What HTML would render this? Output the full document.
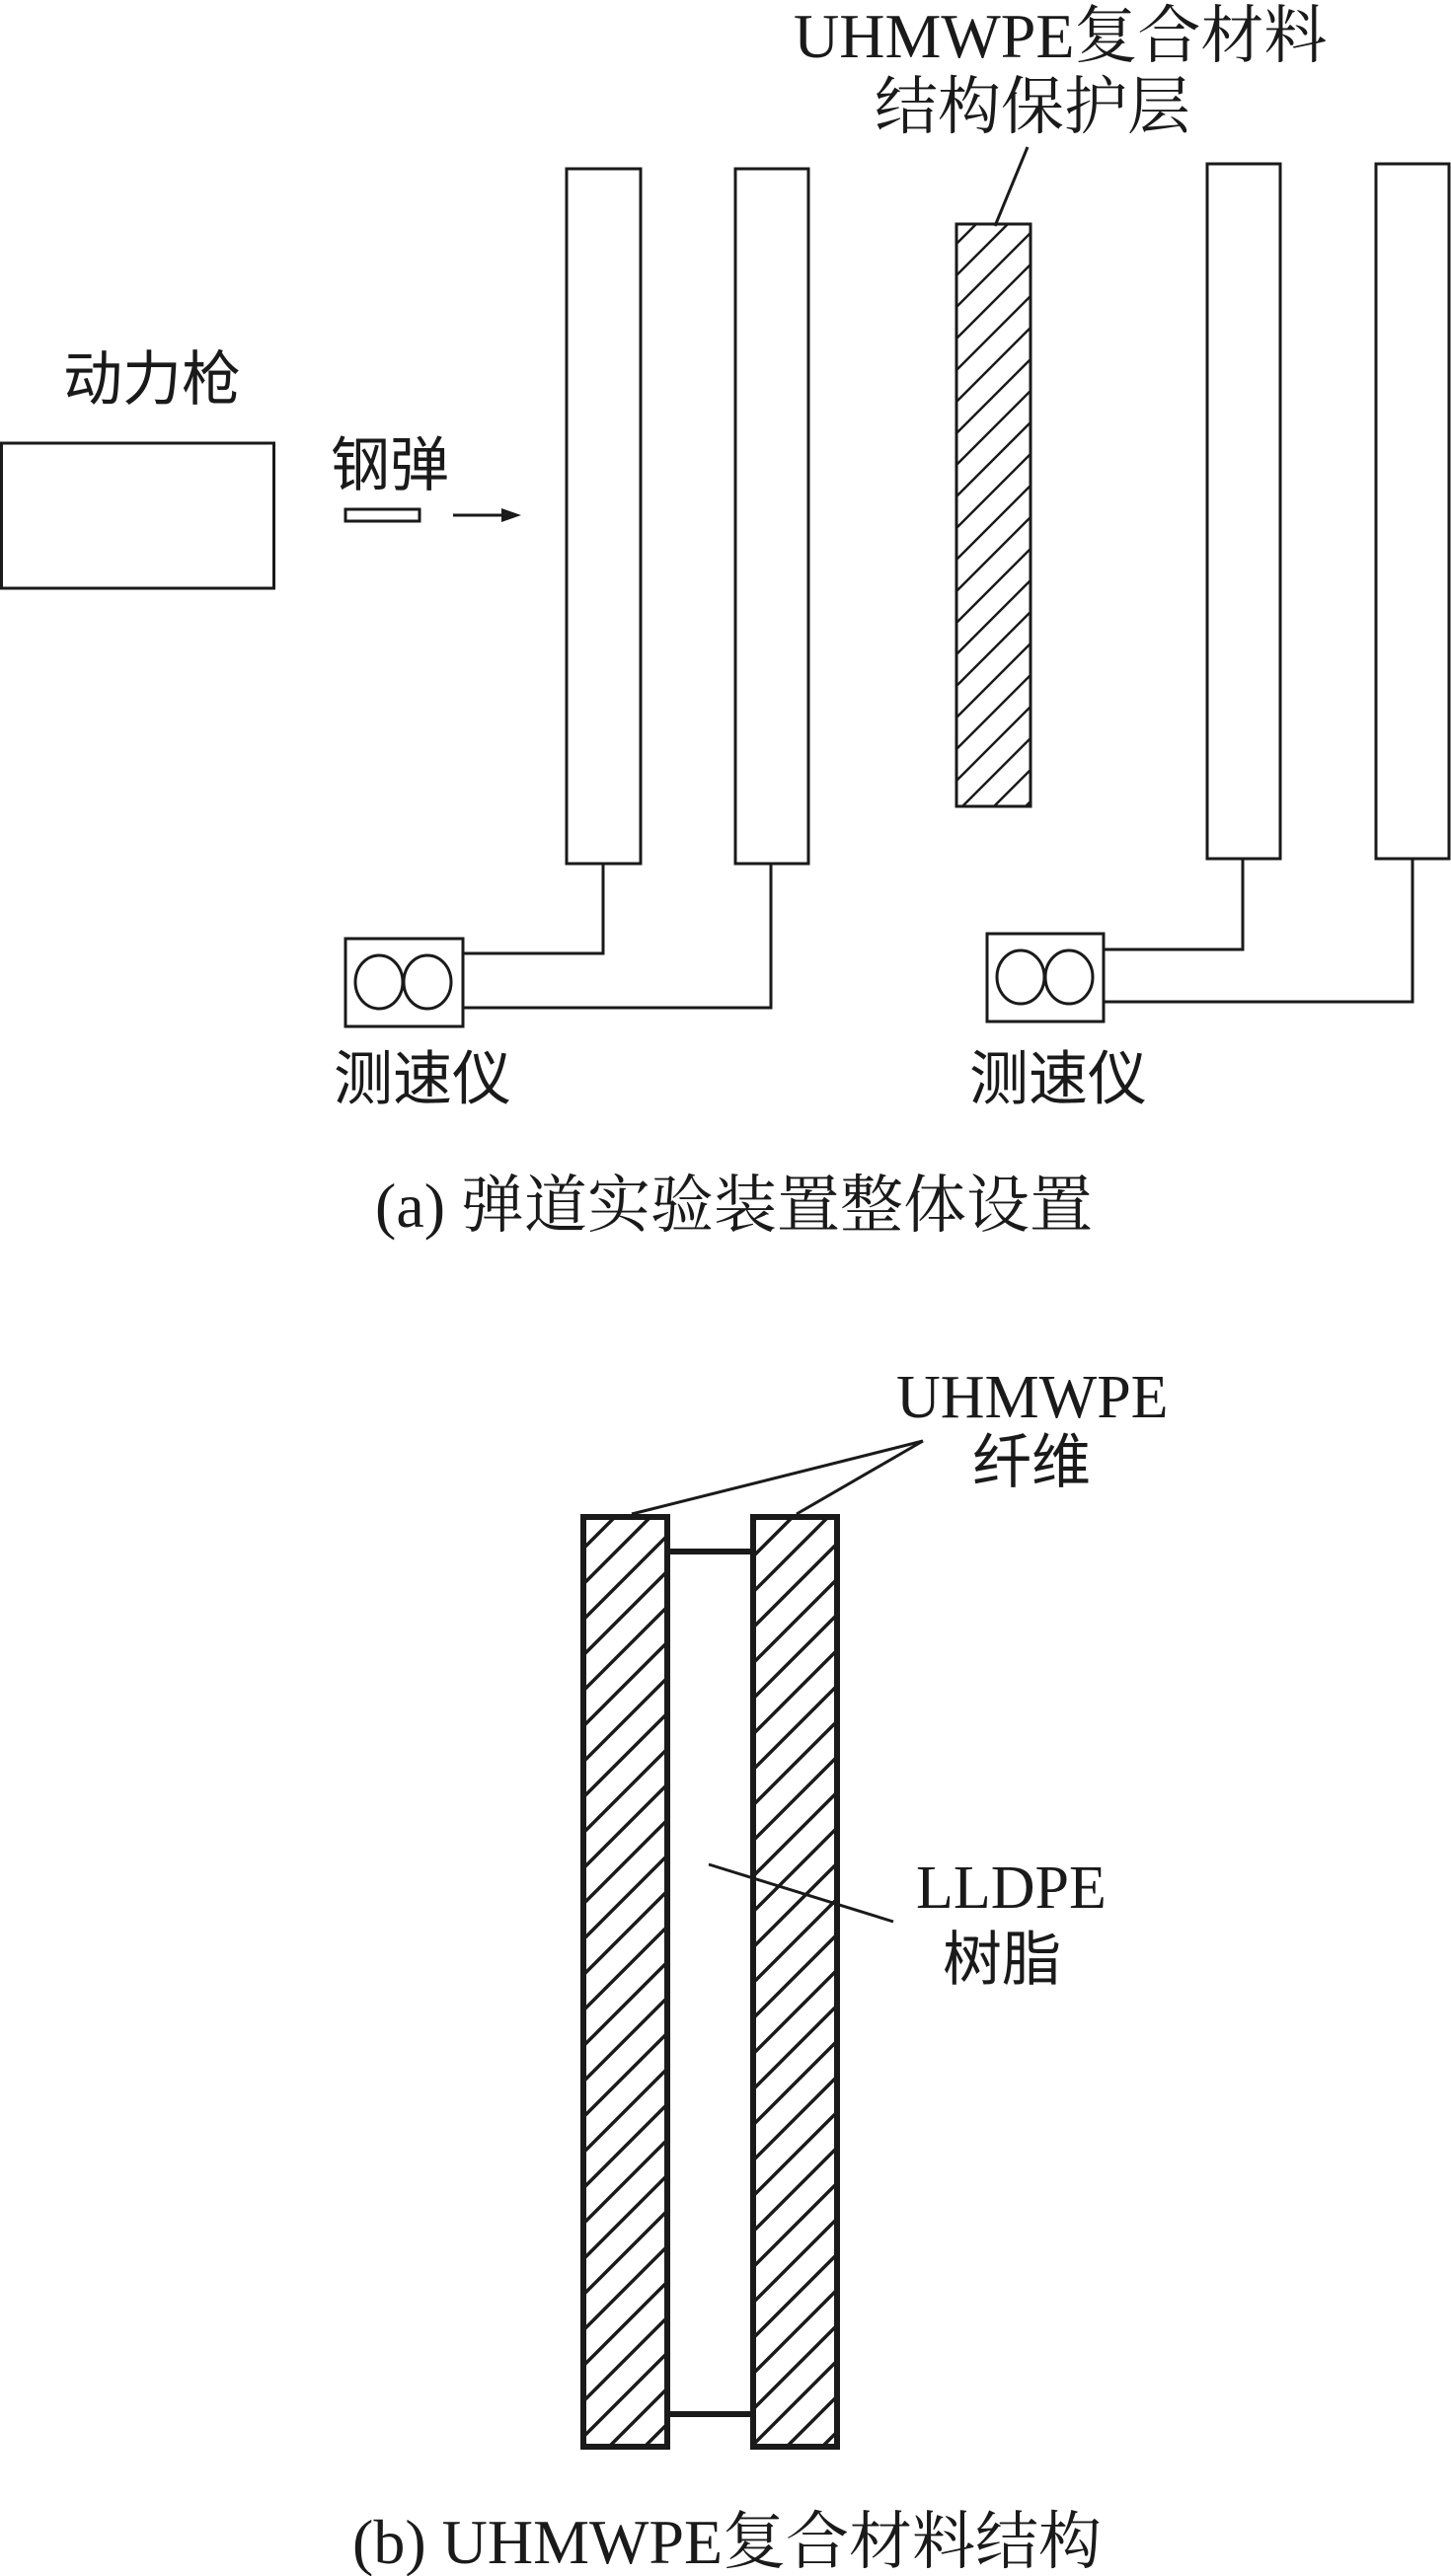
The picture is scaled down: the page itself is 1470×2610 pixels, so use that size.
<!DOCTYPE html>
<html><head><meta charset="utf-8"><style>
html,body{margin:0;padding:0;background:#fff;}
svg{display:block;}
text{fill:#1a1a1a;}
.s{font-family:"Liberation Serif","Noto Serif CJK SC",serif;}
.h{font-family:"Liberation Sans","Noto Sans CJK SC",sans-serif;}
</style></head><body>
<svg width="1470" height="2610" viewBox="0 0 1470 2610" xmlns="http://www.w3.org/2000/svg">
<defs>
<pattern id="ha" patternUnits="userSpaceOnUse" width="32" height="32">
<path d="M-6,38 L38,-6 M-6,6 L6,-6 M26,38 L38,26" stroke="#1a1a1a" stroke-width="2.5"/>
</pattern>
<pattern id="hb" patternUnits="userSpaceOnUse" width="36" height="36">
<path d="M-6,42 L42,-6 M-6,6 L6,-6 M30,42 L42,30" stroke="#1a1a1a" stroke-width="3.5"/>
</pattern>
</defs>
<g fill="none" stroke="#1a1a1a" stroke-width="3">
<rect x="1.5" y="449" width="276" height="147"/>
<rect x="350" y="516" width="75" height="12"/>
<line x1="459" y1="522" x2="515" y2="522"/>
<rect x="574" y="171" width="75" height="704"/>
<rect x="745" y="171" width="74" height="704"/>
<rect x="969" y="227" width="75" height="590" fill="url(#ha)"/>
<rect x="1223" y="166" width="74" height="704"/>
<rect x="1394" y="166" width="74" height="704"/>
<line x1="1041" y1="149" x2="1008" y2="229"/>
<rect x="350" y="951" width="119" height="89"/>
<ellipse cx="384" cy="995" rx="24" ry="27"/><ellipse cx="433" cy="995" rx="24" ry="27"/>
<polyline points="611,875 611,966 469,966"/>
<polyline points="781,875 781,1021 469,1021"/>
<rect x="1000" y="946" width="118" height="89"/>
<ellipse cx="1034" cy="990" rx="24" ry="27"/><ellipse cx="1083" cy="990" rx="24" ry="27"/>
<polyline points="1259,870 1259,962 1118,962"/>
<polyline points="1431,870 1431,1015 1118,1015"/>
</g>
<polygon points="528,522 508,515 508,529" fill="#1a1a1a"/>
<g fill="none" stroke="#1a1a1a">
<rect x="591" y="1537" width="85" height="942" stroke-width="6" fill="url(#hb)"/>
<rect x="763" y="1537" width="85" height="942" stroke-width="6" fill="url(#hb)"/>
<line x1="676" y1="1572" x2="763" y2="1572" stroke-width="6"/>
<line x1="676" y1="2446" x2="763" y2="2446" stroke-width="6"/>
<line x1="935" y1="1460" x2="640" y2="1534" stroke-width="3"/>
<line x1="935" y1="1460" x2="807" y2="1534" stroke-width="3"/>
<line x1="718" y1="1889" x2="905" y2="1947" stroke-width="3"/>
</g>
<text class="s" x="804" y="58" font-size="64">UHMWPE复合材料</text>
<text class="s" x="886" y="130" font-size="64">结构保护层</text>
<text class="h" x="64" y="405" font-size="60">动力枪</text>
<text class="h" x="335" y="492" font-size="60">钢弹</text>
<text class="h" x="338" y="1114" font-size="60">测速仪</text>
<text class="h" x="982" y="1114" font-size="60">测速仪</text>
<text class="s" x="380" y="1243" font-size="64">(a) 弹道实验装置整体设置</text>
<text class="s" x="908" y="1436" font-size="62">UHMWPE</text>
<text class="h" x="985" y="1502" font-size="60">纤维</text>
<text class="s" x="928" y="1933" font-size="62">LLDPE</text>
<text class="h" x="955" y="2006" font-size="60">树脂</text>
<text class="s" x="357" y="2597" font-size="64">(b) UHMWPE复合材料结构</text>
</svg>
</body></html>
